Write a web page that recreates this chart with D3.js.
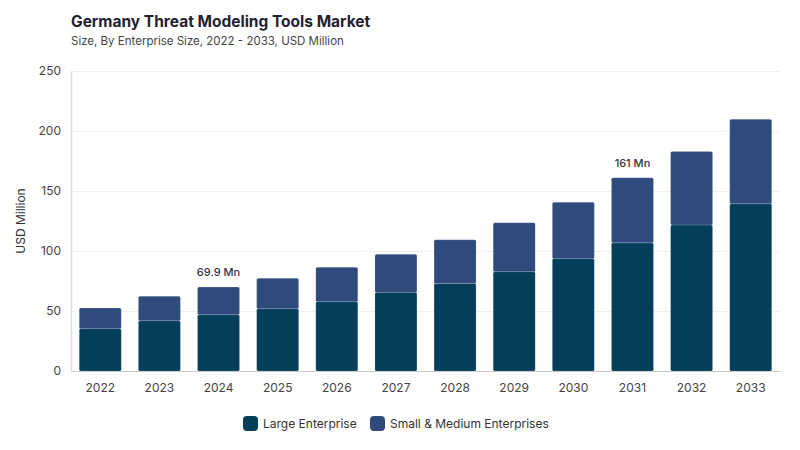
<!DOCTYPE html>
<html>
<head>
<meta charset="utf-8">
<script src="https://d3js.org/d3.v7.min.js"></script>
<style>
    body { margin: 0; background: #ffffff; }
    text { font-family: Inter, "Noto Sans", sans-serif; }
    .chart-title { font-size: 15.5px; font-weight: 700; fill: #1f2233; }
    .chart-subtitle { font-size: 11.5px; fill: #444444; }
    .tick text { font-size: 12px; fill: #444444; }
    .grid line { stroke: #efefef; stroke-width: 1px; }
    .grid path { stroke-width: 0; }
    .value-label { font-size: 11px; font-weight: 500; fill: #333344; }
    .legend-label { font-size: 12px; fill: #333333; }
</style>
</head>
<body>
<div id="chart"></div>
<script>
    // data
    const years = ["2022", "2023", "2024", "2025", "2026", "2027", "2028", "2029", "2030", "2031", "2032", "2033"];
    const largeEnterprise = [35.3, 41.9, 46.9, 51.9, 57.8, 65.6, 73.0, 82.8, 93.6, 106.8, 121.7, 139.4];
    const smallMedium = [17.2, 20.3, 23.0, 25.3, 28.7, 31.6, 36.3, 40.8, 47.0, 54.2, 61.3, 70.3];
    const seriesNames = ["Large Enterprise", "Small & Medium Enterprises"];
    const seriesColors = ["#033e5b", "#2f4b7c"];
    const yTicks = [0, 50, 100, 150, 200, 250];
    const labelled = {"2024": "69.9 Mn", "2031": "161 Mn"};

    const width = 800, height = 450;
    const margin = {top: 71, right: 20, bottom: 79, left: 71};

    const svg = d3.select("#chart")
        .append("svg")
        .attr("width", width)
        .attr("height", height);

    const rows = years.map((y, i) => ({year: y, large: largeEnterprise[i], sme: smallMedium[i]}));
    const stacked = d3.stack().keys(["large", "sme"])(rows);

    const x = d3.scaleBand()
        .domain(years)
        .range([margin.left, 780])
        .paddingInner(0.29)
        .paddingOuter(0.14);

    const y = d3.scaleLinear()
        .domain([0, 250])
        .range([height - margin.bottom, margin.top]);

    // title
    svg.append("text")
        .attr("class", "chart-title")
        .attr("x", 71)
        .attr("y", 27)
        .text("Germany Threat Modeling Tools Market");

    svg.append("text")
        .attr("class", "chart-subtitle")
        .attr("x", 71)
        .attr("y", 45)
        .text("Size, By Enterprise Size, 2022 - 2033, USD Million");

    // gridlines
    svg.append("g")
        .attr("class", "grid")
        .attr("transform", `translate(${margin.left},0)`)
        .call(d3.axisLeft(y).tickValues(yTicks.slice(1)).tickSize(-(780 - margin.left)).tickFormat(""));

    // y axis
    const yAxis = svg.append("g")
        .attr("transform", `translate(${margin.left},0)`)
        .call(d3.axisLeft(y).tickValues(yTicks).tickSize(0).tickPadding(10));
    yAxis.select(".domain").attr("stroke", "#dddddd").attr("stroke-width", 1.5);

    svg.append("text")
        .attr("transform", `translate(25, ${y(125)}) rotate(-90)`)
        .attr("text-anchor", "middle")
        .style("font-size", "12px")
        .style("fill", "#333333")
        .text("USD Million");

    // bars
    svg.append("g")
        .selectAll("g")
        .data(stacked)
        .join("g")
        .attr("fill", (d, i) => seriesColors[i])
        .selectAll("rect")
        .data(d => d)
        .join("rect")
        .attr("x", d => x(d.data.year))
        .attr("y", d => y(d[1]))
        .attr("width", x.bandwidth())
        .attr("height", d => y(d[0]) - y(d[1]))
        .attr("rx", 1.5)
        .attr("stroke", "#ffffff")
        .attr("stroke-opacity", 0.25)
        .attr("stroke-width", 0.6);

    // x axis
    const xAxis = svg.append("g")
        .attr("transform", `translate(0,${y(0)})`)
        .call(d3.axisBottom(x).tickSize(0).tickPadding(12));
    xAxis.select(".domain").attr("stroke", "#cccccc").attr("stroke-width", 1.2);

    // value labels
    svg.append("g")
        .selectAll("text")
        .data(rows.filter(d => labelled[d.year]))
        .join("text")
        .attr("class", "value-label")
        .attr("x", d => x(d.year) + x.bandwidth() / 2)
        .attr("y", d => y(d.large + d.sme) - 11)
        .attr("text-anchor", "middle")
        .text(d => labelled[d.year]);

    // legend
    const legendX = [243, 370];
    const legend = svg.append("g")
        .selectAll("g")
        .data(seriesNames)
        .join("g")
        .attr("transform", (d, i) => `translate(${legendX[i]}, 416)`);
    legend.append("rect")
        .attr("width", 15)
        .attr("height", 15)
        .attr("rx", 4)
        .attr("fill", (d, i) => seriesColors[i]);
    legend.append("text")
        .attr("class", "legend-label")
        .attr("x", 20)
        .attr("y", 12)
        .text(d => d);
</script>
</body>
</html>
